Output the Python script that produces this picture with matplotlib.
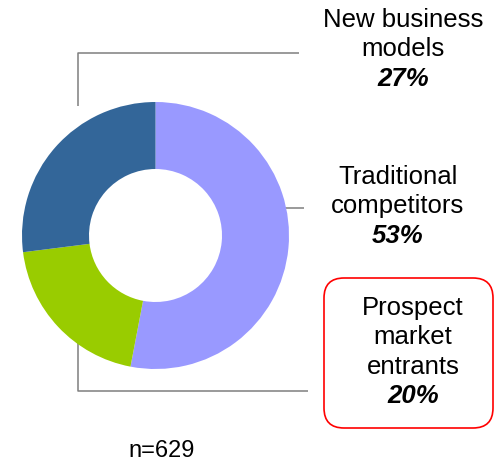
import matplotlib.pyplot as plt
from matplotlib.patches import FancyBboxPatch

plt.rcParams['font.family'] = ['Liberation Sans', 'DejaVu Sans']

# Share of respondents by competitor type
labels = ["Traditional\ncompetitors", "Prospect\nmarket\nentrants", "New business\nmodels"]
shares = [53, 20, 27]
colors = ['#9999FF', '#99CC00', '#336699']
sample_size = 629

W, H = 500, 461

fig = plt.figure(figsize=(W / 100, H / 100), dpi=100)
ax = fig.add_axes([0, 0, 1, 1])

# work in pixel units, y measured from the top
def py(y):
    return H - y

cx, cy = 155.5, py(235.5)
r_out, r_in = 133.5, 66.5

ax.pie(shares, colors=colors, startangle=90, counterclock=False,
       center=(cx, cy), radius=r_out,
       wedgeprops=dict(width=r_out - r_in, linewidth=0))

ax.set_xlim(0, W)
ax.set_ylim(0, H)
ax.set_aspect('equal')
ax.axis('off')

# leader lines
line_kw = dict(color='#7F7F7F', lw=1.1, zorder=0, solid_capstyle='butt')
ax.plot([78, 78, 299], [py(106), py(53), py(53)], **line_kw)
ax.plot([285, 304], [py(208), py(208)], **line_kw)
ax.plot([78, 78, 308], [py(343), py(391), py(391)], **line_kw)

# callout box
box = FancyBboxPatch((324 + 20, py(428) + 20), 493 - 324 - 40, 428 - 278 - 40,
                     boxstyle="round,pad=20", fc='white', ec='#FF0000', lw=1.2)
ax.add_patch(box)

# labels: name lines in regular type, share in bold italic
label_pos = [(398, 177), (413, 308), (403, 20)]
step = 29.3
fs = 18.5
for lab, val, (x, y0) in zip(labels, shares, label_pos):
    lines = lab.split("\n")
    for k, line in enumerate(lines):
        ax.text(x, py(y0 + k * step), line, ha='center', va='center', fontsize=fs)
    ax.text(x, py(y0 + len(lines) * step), f"{val}%", ha='center', va='center',
            fontsize=fs, fontweight='bold', fontstyle='italic')

ax.text(162, py(451), f"n={sample_size}", ha='center', va='center', fontsize=17)

fig.savefig('out.png', dpi=100)
